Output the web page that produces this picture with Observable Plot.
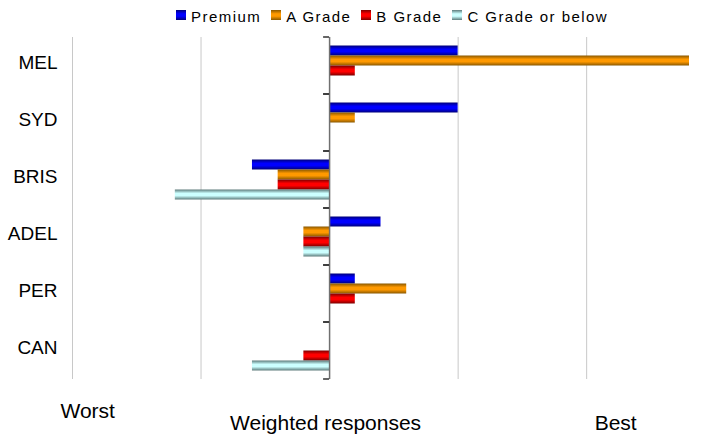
<!DOCTYPE html>
<html>
<head>
<meta charset="utf-8">
<script src="https://cdn.jsdelivr.net/npm/d3@7"></script>
<script src="https://cdn.jsdelivr.net/npm/@observablehq/plot@0.6"></script>
<style>
  html, body { margin: 0; padding: 0; background: #fff; }
  body { width: 706px; height: 435px; overflow: hidden; font-family: "Liberation Sans", Arial, sans-serif; }
  #legend { height: 30px; display: flex; align-items: center; padding-left: 176px; box-sizing: border-box; gap: 10px; font-size: 15px; letter-spacing: 1.45px; color: #000; }
  #legend .item { display: flex; align-items: center; gap: 5px; }
  #legend .swatch { width: 10px; height: 10px; }
  #legend .item span:last-child { position: relative; top: 1px; }
</style>
</head>
<body>
<div id="legend"></div>
<div id="chart"></div>
<script>
// Cities, top to bottom
const categories = ["MEL", "SYD", "BRIS", "ADEL", "PER", "CAN"];
// Quality grades
const series = ["Premium", "A Grade", "B Grade", "C Grade or below"];
// Weighted response per city, one array per grade
const premium = [1.0, 1.0, -0.6, 0.4, 0.2, 0];
const aGrade  = [2.8, 0.2, -0.4, -0.2, 0.6, 0];
const bGrade  = [0.2, 0, -0.4, -0.2, 0.2, -0.2];
const cGrade  = [0, 0, -1.2, -0.2, 0, -0.6];
// Axis wording
const endLabels = ["Worst", "Best"];
const axisLabel = "Weighted responses";
const gridTicks = [-2, -1, 1, 2];

// Shaded fills: dark edge, bright centre, dark edge
const shades = [
  ["#00007a", "#0000ff"],
  ["#8a5800", "#ff9900"],
  ["#7a0000", "#ff0000"],
  ["#5c7a7a", "#ccffff"]
];

const valuesBySeries = [premium, aGrade, bGrade, cGrade];
const rows = categories.flatMap((city, i) =>
  series.map((grade, j) => ({city, grade, value: valuesBySeries[j][i]}))
);

// Short ticks on the zero axis at each category boundary
function categoryTicks(index, scales, values, dimensions) {
  const ns = "http://www.w3.org/2000/svg";
  const g = document.createElementNS(ns, "g");
  const x0 = scales.x(0);
  const top = dimensions.marginTop;
  const bottom = dimensions.height - dimensions.marginBottom;
  for (const y of [top, bottom]) {
    const line = document.createElementNS(ns, "line");
    line.setAttribute("x1", x0 - 6);
    line.setAttribute("x2", x0);
    line.setAttribute("y1", y);
    line.setAttribute("y2", y);
    line.setAttribute("stroke", "#333");
    line.setAttribute("stroke-width", 1.5);
    g.appendChild(line);
  }
  return g;
}

const last = categories[categories.length - 1];

const chart = Plot.plot({
  width: 706,
  height: 405,
  marginTop: 5.5,
  marginBottom: 55.5,
  marginLeft: 72,
  marginRight: 17,
  style: {fontFamily: "'Liberation Sans', Arial, sans-serif", fontSize: "18px", color: "#000", background: "#fff", overflow: "visible"},
  x: {domain: [-2, 2.8], axis: null},
  y: {domain: series, axis: null, paddingInner: 0, paddingOuter: 0.63},
  fy: {domain: categories, padding: 0, label: null},
  color: {domain: series, range: series.map((_, i) => `url(#grade-${i})`)},
  marks: [
    Plot.ruleX(gridTicks, {stroke: "#c8c8c8", strokeWidth: 1}),
    Plot.barX(rows, {fy: "city", y: "grade", x: "value", fill: "grade"}),
    Plot.ruleX([0], {stroke: "#707070", strokeWidth: 1.5}),
    categoryTicks,
    Plot.axisFy({anchor: "left", tickSize: 0, tickPadding: 15, dy: -3, fontSize: 19, label: null}),
    Plot.text([endLabels[0]], {fy: () => last, x: -2, text: d => d, textAnchor: "start", lineAnchor: "bottom", frameAnchor: "bottom", dx: -12, dy: 38, fontSize: 21}),
    Plot.text([axisLabel], {fy: () => last, x: 0, text: d => d, textAnchor: "middle", lineAnchor: "bottom", frameAnchor: "bottom", dx: -4, dy: 50, fontSize: 21}),
    Plot.text([endLabels[1]], {fy: () => last, x: 2, text: d => d, textAnchor: "start", lineAnchor: "bottom", frameAnchor: "bottom", dx: 8, dy: 50, fontSize: 21})
  ]
});

// Gradient definitions referenced by the bar fills
const ns = "http://www.w3.org/2000/svg";
const defs = document.createElementNS(ns, "defs");
shades.forEach(([dark, bright], i) => {
  const lg = document.createElementNS(ns, "linearGradient");
  lg.setAttribute("id", `grade-${i}`);
  lg.setAttribute("x1", 0); lg.setAttribute("y1", 0);
  lg.setAttribute("x2", 0); lg.setAttribute("y2", 1);
  [[0, dark], [0.38, bright], [0.62, bright], [1, dark]].forEach(([o, c]) => {
    const s = document.createElementNS(ns, "stop");
    s.setAttribute("offset", o);
    s.setAttribute("stop-color", c);
    lg.appendChild(s);
  });
  defs.appendChild(lg);
});
chart.insertBefore(defs, chart.firstChild);
document.getElementById("chart").appendChild(chart);

// Legend
const legend = document.getElementById("legend");
series.forEach((name, i) => {
  const [dark, bright] = shades[i];
  const item = document.createElement("div");
  item.className = "item";
  const sw = document.createElement("span");
  sw.className = "swatch";
  sw.style.background = `linear-gradient(to bottom, ${dark} 0%, ${bright} 38%, ${bright} 62%, ${dark} 100%)`;
  const label = document.createElement("span");
  label.textContent = name;
  item.appendChild(sw);
  item.appendChild(label);
  legend.appendChild(item);
});
</script>
</body>
</html>
